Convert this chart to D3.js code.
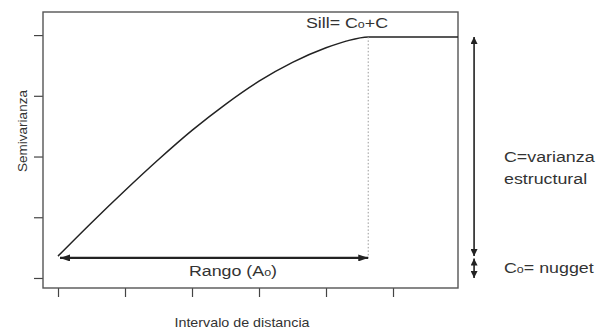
<!DOCTYPE html>
<html>
<head>
<meta charset="utf-8">
<script src="https://cdn.jsdelivr.net/npm/d3@7"></script>
<style>
  body { margin: 0; background: #fff; }
  svg { display: block; font-family: "Liberation Sans", Arial, sans-serif; }
</style>
</head>
<body>
<div class="chart"></div>
<script>
// values
const distance = [0, 0.5, 1, 1.5, 2, 2.5, 3, 3.5, 4, 4.3, 4.63, 5, 5.5, 5.97];
const semivariance = [0.36, 0.91, 1.44, 1.95, 2.43, 2.86, 3.24, 3.55, 3.79, 3.90, 3.97, 3.97, 3.97, 3.97];
const xTicks = [0, 1, 2, 3, 4, 5];
const yTicks = [0, 1, 2, 3, 4];
const nugget = 0.36;
const sill = 3.97;
const rangeA = 4.63;

const width = 601, height = 333;
const marginLeft = 43, marginRight = 143, marginTop = 12, marginBottom = 45;
const ink = "#333";

let svg = d3.select(".chart")
  .append("svg")
  .attr("width", width)
  .attr("height", height);

let defs = svg.append("defs");
function head(id, w, l) {
  defs.append("marker")
    .attr("id", id)
    .attr("markerUnits", "userSpaceOnUse")
    .attr("viewBox", `0 ${-w} ${l} ${2 * w}`)
    .attr("refX", l).attr("refY", 0)
    .attr("markerWidth", l).attr("markerHeight", 2 * w)
    .attr("orient", "auto-start-reverse")
  .append("path")
    .attr("d", `M0,${-w}L${l},0L0,${w}Z`)
    .attr("fill", "#222");
}
head("big", 3.5, 10);
head("small", 3.5, 7);

let x = d3.scaleLinear().domain([-0.224, 5.97]).range([marginLeft, width - marginRight]);
let y = d3.scaleLinear().domain([-0.165, 4.38]).range([height - marginBottom, marginTop]);

// axes, ticks only (no labels)
let gx = svg.append("g")
  .attr("transform", `translate(0,${height - marginBottom})`)
  .call(d3.axisBottom(x).tickValues(xTicks).tickFormat("").tickSize(9));
let gy = svg.append("g")
  .attr("transform", `translate(${marginLeft},0)`)
  .call(d3.axisLeft(y).tickValues(yTicks).tickFormat("").tickSize(9));
[gx, gy].forEach(g => {
  g.select(".domain").remove();
  g.selectAll("line").attr("stroke", "#444").attr("stroke-width", 1.2);
});

// plot box
svg.append("rect")
  .attr("x", marginLeft).attr("y", marginTop)
  .attr("width", width - marginRight - marginLeft)
  .attr("height", height - marginBottom - marginTop)
  .attr("fill", "none")
  .attr("stroke", "#555")
  .attr("stroke-width", 1.4);

// model curve
let line = d3.line()
  .curve(d3.curveMonotoneX)
  .x((d, i) => x(distance[i]))
  .y(d => y(d));
svg.append("path")
  .datum(semivariance)
  .attr("fill", "none")
  .attr("stroke", "#222")
  .attr("stroke-width", 1.5)
  .attr("d", line);

// dotted line at the range
svg.append("line")
  .attr("x1", x(rangeA)).attr("x2", x(rangeA))
  .attr("y1", y(sill)).attr("y2", y(0.33))
  .attr("stroke", "#999")
  .attr("stroke-width", 1)
  .attr("stroke-dasharray", "1.5,2");

// range arrow
svg.append("line")
  .attr("x1", x(0.03)).attr("x2", x(rangeA))
  .attr("y1", y(0.33)).attr("y2", y(0.33))
  .attr("stroke", "#222")
  .attr("stroke-width", 2.2)
  .attr("marker-start", "url(#big)")
  .attr("marker-end", "url(#big)");

// right side arrows: structural variance and nugget
let xr = x(6.21);
svg.append("line")
  .attr("x1", xr).attr("x2", xr)
  .attr("y1", y(sill)).attr("y2", y(nugget))
  .attr("stroke", "#222")
  .attr("stroke-width", 1.6)
  .attr("marker-start", "url(#small)")
  .attr("marker-end", "url(#small)");
svg.append("line")
  .attr("x1", xr).attr("x2", xr)
  .attr("y1", y(nugget - 0.04)).attr("y2", y(0))
  .attr("stroke", "#222")
  .attr("stroke-width", 1.6)
  .attr("marker-start", "url(#small)")
  .attr("marker-end", "url(#small)");

// annotation text
function label(tx, ty, anchor, parts, size) {
  let t = svg.append("text")
    .attr("transform", `translate(${tx},${ty}) scale(1.15,1)`)
    .attr("text-anchor", anchor)
    .attr("fill", ink)
    .attr("font-size", size);
  parts.forEach(p => {
    t.append("tspan")
      .attr("font-size", p[1] ? size * 0.7 : size)
      .text(p[0]);
  });
}
label(347, 28, "middle", [["Sill= C"], ["o", true], ["+C"]], 15.5);
label(233, 276, "middle", [["Rango (A"], ["o", true], [")"]], 15.5);
label(504, 162, "start", [["C=varianza"]], 15.5);
label(504, 184, "start", [["estructural"]], 15.5);
label(504, 273, "start", [["C"], ["o", true], ["= nugget"]], 15.5);

// axis titles
svg.append("text")
  .attr("transform", `translate(27,131) rotate(-90)`)
  .attr("text-anchor", "middle")
  .attr("fill", ink)
  .attr("font-size", 13.5)
  .text("Semivarianza");
svg.append("text")
  .attr("transform", `translate(242,327) scale(1.1,1)`)
  .attr("text-anchor", "middle")
  .attr("fill", ink)
  .attr("font-size", 13)
  .text("Intervalo de distancia");
</script>
</body>
</html>
